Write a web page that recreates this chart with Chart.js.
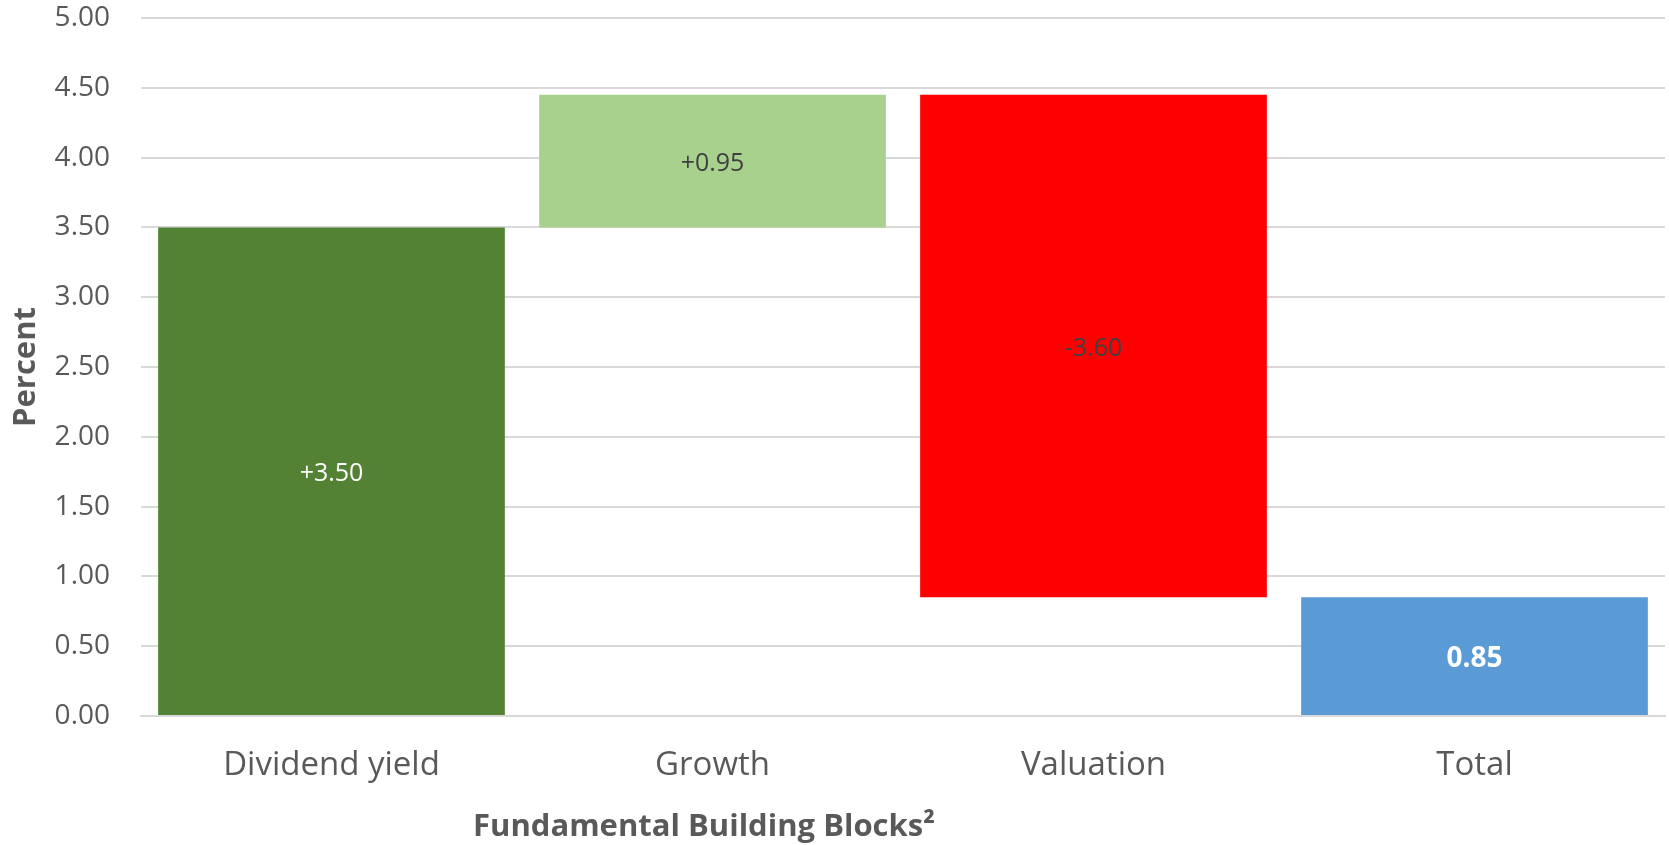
<!DOCTYPE html>
<html>
<head>
<meta charset="utf-8">
<script src="https://cdn.jsdelivr.net/npm/chart.js@4.4.1/dist/chart.umd.min.js"></script>
<style>
  html, body { margin: 0; padding: 0; background: #fff; }
  #chart { display: block; }
</style>
</head>
<body>
<canvas id="chart" width="1669" height="845"></canvas>
<script>
const categories = ["Dividend yield", "Growth", "Valuation", "Total"];
// waterfall: [start, end] per step
const barStart = [0, 3.5, 0.85, 0];
const barEnd = [3.5, 4.45, 4.45, 0.85];
const barLabels = ["+3.50", "+0.95", "-3.60", "0.85"];
const barColors = ["#548235", "#A9D18E", "#FF0000", "#5B9BD5"];
const labelColors = ["#ffffff", "#404040", "#404040", "#ffffff"];
const labelBold = [false, false, false, true];
const yTicks = [0, 0.5, 1, 1.5, 2, 2.5, 3, 3.5, 4, 4.5, 5];

const textGray = "#595959";
const font = "'Open Sans', 'Noto Sans', sans-serif";

const barText = {
  id: "barText",
  afterDatasetsDraw(chart) {
    const ctx = chart.ctx;
    const meta = chart.getDatasetMeta(0);
    ctx.save();
    ctx.textAlign = "center";
    ctx.textBaseline = "middle";
    meta.data.forEach((bar, i) => {
      const p = bar.getProps(["x", "y", "base"], true);
      ctx.fillStyle = labelColors[i];
      ctx.font = (labelBold[i] ? "bold 28px " : "25px ") + font;
      ctx.fillText(barLabels[i], p.x, (p.y + p.base) / 2 + 3);
    });
    ctx.restore();
  }
};

// Excel placed the x axis title left of centre
const xTitle = {
  id: "xTitle",
  afterDraw(chart) {
    const ctx = chart.ctx;
    ctx.save();
    ctx.fillStyle = textGray;
    ctx.font = "bold 31px " + font;
    ctx.textAlign = "center";
    ctx.textBaseline = "middle";
    ctx.fillText("Fundamental Building Blocks²", 704, 827);
    ctx.restore();
  }
};

new Chart(document.getElementById("chart"), {
  type: "bar",
  data: {
    labels: categories,
    datasets: [{
      data: barStart.map((s, i) => [s, barEnd[i]]),
      backgroundColor: barColors,
      borderWidth: 0,
      barPercentage: 0.91,
      categoryPercentage: 1.0
    }]
  },
  options: {
    responsive: false,
    animation: false,
    devicePixelRatio: 1,
    layout: { padding: { top: 18, right: 4, bottom: 0, left: 0 } },
    plugins: {
      legend: { display: false },
      tooltip: { enabled: false }
    },
    scales: {
      x: {
        grid: { display: false },
        border: { color: "#d9d9d9", width: 2 },
        ticks: { color: textGray, font: { family: font, size: 33 }, padding: 22 },
        afterFit(scale) { scale.height = 129; }
      },
      y: {
        min: 0,
        max: 5,
        afterBuildTicks(scale) { scale.ticks = yTicks.map(v => ({ value: v })); },
        grid: { color: "#d9d9d9", lineWidth: 2, drawTicks: false },
        border: { display: false },
        ticks: {
          color: textGray,
          font: { family: font, size: 28 },
          padding: 31,
          callback: v => Number(v).toFixed(2)
        },
        title: {
          display: true,
          text: "Percent",
          color: textGray,
          font: { family: font, size: 31, weight: "bold" },
          padding: { top: 8, bottom: 0 }
        },
        afterFit(scale) {
          scale.width = 141;
          scale.paddingTop = 0;
          scale.paddingBottom = 0;
        }
      }
    }
  },
  plugins: [barText, xTitle]
});
</script>
</body>
</html>
